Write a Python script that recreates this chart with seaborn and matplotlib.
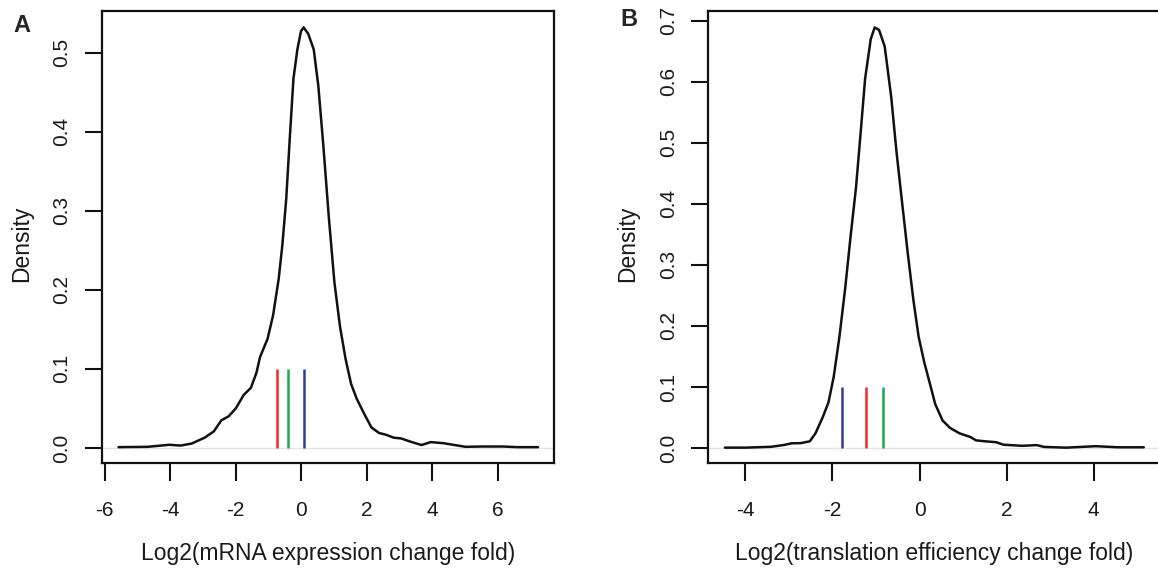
import matplotlib
matplotlib.use("Agg")
import matplotlib.pyplot as plt
import seaborn as sns
import pandas as pd

# === DATOS ===
# Panel A: densidad de Log2(mRNA expression change fold)
mrna_x = [-5.58, -4.7, -4.03, -3.69, -3.35, -2.95, -2.67, -2.44, -2.22, -2.0,
          -1.76, -1.54, -1.37, -1.26, -1.03, -0.86, -0.69, -0.58, -0.46, -0.35,
          -0.24, -0.12, -0.01, 0.07, 0.21, 0.38, 0.52, 0.67, 0.84, 1.01,
          1.18, 1.35, 1.52, 1.69, 1.91, 2.14, 2.37, 2.6, 2.82, 3.05,
          3.33, 3.67, 3.95, 4.34, 4.68, 5.02, 5.48, 6.15, 6.6, 7.23]
mrna_y = [0.001, 0.0014, 0.004, 0.003, 0.0055, 0.013, 0.021, 0.035, 0.040, 0.05,
          0.067, 0.076, 0.095, 0.115, 0.138, 0.168, 0.214, 0.256, 0.315, 0.393,
          0.467, 0.504, 0.527, 0.532, 0.524, 0.504, 0.458, 0.384, 0.292, 0.21,
          0.154, 0.113, 0.081, 0.0625, 0.044, 0.026, 0.019, 0.0165, 0.013, 0.012,
          0.008, 0.0037, 0.0074, 0.006, 0.0037, 0.0014, 0.0018, 0.0018, 0.001, 0.001]
mrna_marks = [-0.73, -0.40, 0.08]

# Panel B: densidad de Log2(translation efficiency change fold)
te_x = [-4.47, -4.0, -3.41, -3.11, -2.94, -2.73, -2.52, -2.39, -2.22, -2.09,
        -1.97, -1.84, -1.71, -1.58, -1.46, -1.36, -1.25, -1.12, -1.03, -0.93,
        -0.8, -0.65, -0.53, -0.4, -0.27, -0.14, -0.02, 0.11, 0.24, 0.36,
        0.53, 0.7, 0.92, 1.17, 1.3, 1.51, 1.76, 1.93, 2.36, 2.69,
        2.86, 3.37, 4.05, 4.56, 5.15]
te_y = [0.0006, 0.0006, 0.002, 0.005, 0.0077, 0.008, 0.011, 0.024, 0.051, 0.075,
        0.117, 0.182, 0.26, 0.349, 0.426, 0.51, 0.605, 0.67, 0.689, 0.685,
        0.658, 0.575, 0.486, 0.402, 0.319, 0.242, 0.182, 0.14, 0.105, 0.072,
        0.045, 0.033, 0.024, 0.018, 0.0125, 0.011, 0.0095, 0.0054, 0.0036, 0.0048,
        0.0018, 0.0006, 0.003, 0.0012, 0.0012]
te_marks = [-1.79, -1.22, -0.84]

mark_height = 0.1

# === ESTILO ===
sns.set_style("ticks")
plt.rcParams["font.family"] = ["Liberation Sans", "DejaVu Sans"]

fig = plt.figure(figsize=(11.58, 5.69), dpi=100)

panels = [
    dict(label="A", x=mrna_x, y=mrna_y, marks=mrna_marks,
         colors=["#EE2B24", "#1CA84B", "#2F3E9B"],
         pos=[0.0881, 0.1858, 0.3903, 0.7949],
         xlim=(-6.085, 7.716), ylim=(-0.0194, 0.5527),
         xticks=[-6, -4, -2, 0, 2, 4, 6],
         yticks=[0.0, 0.1, 0.2, 0.3, 0.4, 0.5],
         xlabel="Log2(mRNA expression change fold)",
         tag_xy=(0.019, 0.955), ylab_x=0.019),
    dict(label="B", x=te_x, y=te_y, marks=te_marks,
         colors=["#2F3E9B", "#EE2B24", "#1CA84B"],
         pos=[0.6117, 0.1858, 0.3903, 0.7949],
         xlim=(-4.85, 5.53), ylim=(-0.025, 0.716),
         xticks=[-4, -2, 0, 2, 4],
         yticks=[0.0, 0.1, 0.2, 0.3, 0.4, 0.5, 0.6, 0.7],
         xlabel="Log2(translation efficiency change fold)",
         tag_xy=(0.543, 0.965), ylab_x=0.542),
]

for p in panels:
    ax = fig.add_axes(p["pos"])
    ax.axhline(0, color="#e4e4e4", lw=1.0, zorder=1)
    df = pd.DataFrame({"x": p["x"], "y": p["y"]})
    sns.lineplot(data=df, x="x", y="y", ax=ax, color="#111111", lw=1.8,
                 sort=False, estimator=None, zorder=3)
    ax.vlines(p["marks"], 0, mark_height, colors=p["colors"], lw=1.8, zorder=4)

    ax.set_xlim(*p["xlim"])
    ax.set_ylim(*p["ylim"])
    ax.set_xticks(p["xticks"])
    ax.set_xticklabels([str(t) for t in p["xticks"]])
    ax.set_yticks(p["yticks"])
    ax.set_yticklabels([f"{t:.1f}" for t in p["yticks"]], rotation=90, va="center")
    ax.tick_params(axis="x", direction="out", length=13, width=1.5, pad=14,
                   labelsize=15, colors="#111111", labelcolor="#1a1a1a")
    ax.tick_params(axis="y", direction="out", length=12, width=1.5, pad=10,
                   labelsize=15, colors="#111111", labelcolor="#1a1a1a")
    for s in ax.spines.values():
        s.set_linewidth(1.6)
        s.set_color("#111111")
    ax.set_xlabel(p["xlabel"], fontsize=16.5, color="#1a1a1a", labelpad=16)
    ax.set_ylabel("")
    fig.text(p["ylab_x"], 0.571, "Density", rotation=90, fontsize=16.5,
             color="#1a1a1a", ha="center", va="center")
    fig.text(p["tag_xy"][0], p["tag_xy"][1], p["label"], fontsize=17,
             fontweight="bold", ha="center", va="center")

fig.savefig("out.png", dpi=100)
